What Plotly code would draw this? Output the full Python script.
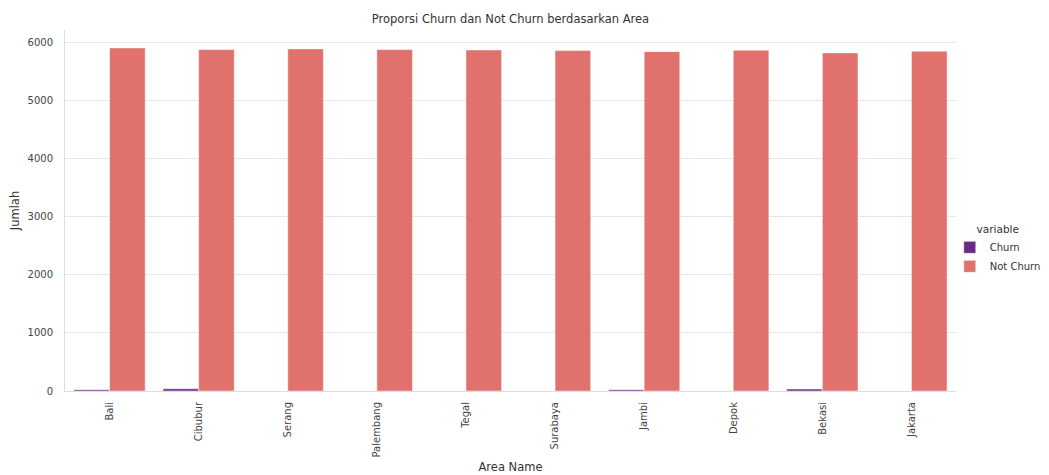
import plotly.graph_objects as go

areas = ["Bali", "Cibubur", "Serang", "Palembang", "Tegal", "Surabaya", "Jambi", "Depok", "Bekasi", "Jakarta"]
churn = [22, 38, 1, 1, 1, 1, 22, 1, 33, 1]
not_churn = [5902, 5873, 5885, 5873, 5867, 5856, 5838, 5862, 5816, 5845]
y_ticks = [0, 1000, 2000, 3000, 4000, 5000, 6000]

FONT = "DejaVu Sans"

fig = go.Figure()
fig.add_trace(go.Bar(x=areas, y=churn, name="Churn", marker=dict(color="#6a2a86", line=dict(color="white", width=0.5))))
fig.add_trace(go.Bar(x=areas, y=not_churn, name="Not Churn", marker=dict(color="#e0716d", line=dict(color="white", width=0.5))))

fig.update_layout(
    width=1049, height=475,
    barmode="group", bargap=0.2, bargroupgap=0,
    plot_bgcolor="white", paper_bgcolor="white",
    margin=dict(l=57, r=101, t=22, b=92, autoexpand=False),
    font=dict(family=FONT, size=10, color="#444"),
    title=dict(text="Proporsi Churn dan Not Churn berdasarkan Area", x=0.479, xanchor="center",
               y=0.976, yanchor="middle", font=dict(size=11.5, color="#333")),
    legend=dict(title=dict(text="variable", side="top center", font=dict(size=10.5, color="#333")),
                x=0.993, xanchor="left", y=0.39, yanchor="middle",
                font=dict(size=10, color="#333"), itemwidth=30, tracegroupgap=0),
    xaxis=dict(title=dict(text="Area Name", font=dict(size=11.5, color="#333"), standoff=6),
               tickangle=-90, showgrid=False, showline=True, linecolor="#dddddd", linewidth=1,
               ticks="", ticklabelstandoff=6, tickfont=dict(size=10, color="#444")),
    yaxis=dict(title=dict(text="Jumlah", font=dict(size=11.5, color="#333"), standoff=10),
               range=[0, 6210], tickvals=y_ticks, showgrid=True, gridcolor="#e6e6e6", gridwidth=1,
               showline=True, linecolor="#dddddd", linewidth=1, zeroline=False,
               ticks="", ticklabelstandoff=9, tickfont=dict(size=10, color="#444")),
)

fig.write_html("out.html")
